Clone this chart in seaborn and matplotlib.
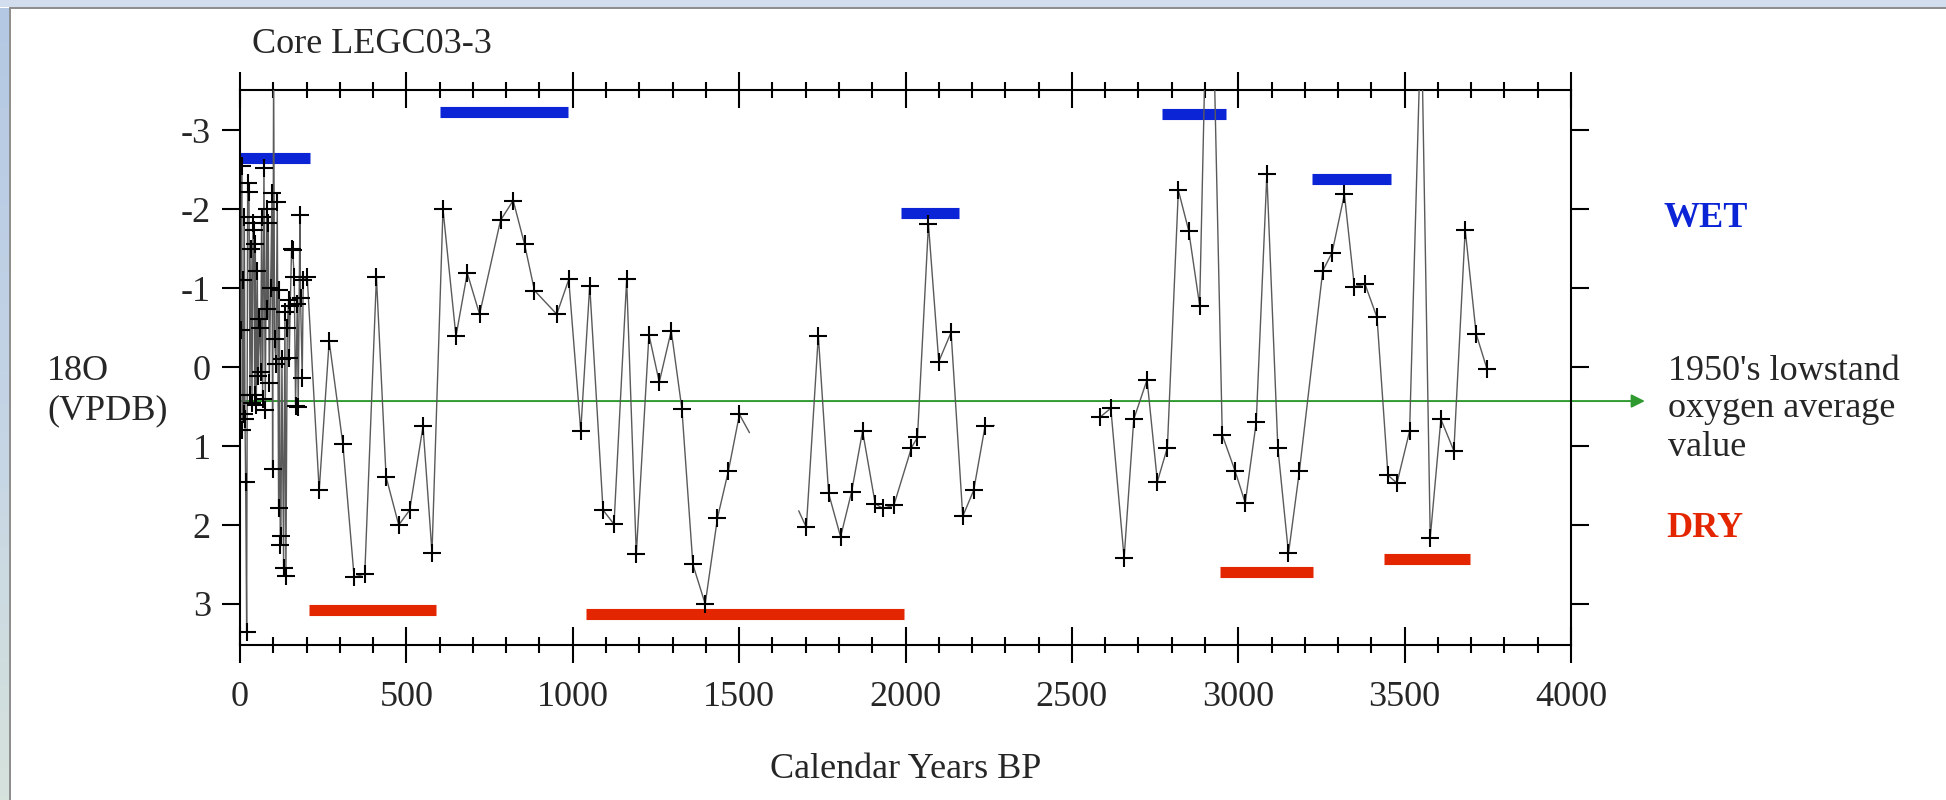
import numpy as np
import pandas as pd
import matplotlib
matplotlib.use("Agg")
import matplotlib.pyplot as plt
import seaborn as sns
from matplotlib.patches import Rectangle
from matplotlib.lines import Line2D
from matplotlib.colors import LinearSegmentedColormap
from matplotlib.ticker import MultipleLocator, NullLocator

# --- Core LEGC03-3 oxygen isotope record (calendar years BP, d18O VPDB) ---
# segment 1: 0 - 1530 BP (densely sampled near the top of the core)
seg1_years = [3, 5, 7, 9, 11, 13, 15, 17, 20, 23, 27, 30, 33, 36, 39, 42, 44, 46,
              49, 52, 54, 57, 59, 62, 65, 68, 72, 76, 80, 82, 85, 88, 92, 96, 98,
              101, 104, 108, 112, 116, 118, 121, 123, 126, 131, 135, 138, 142, 146,
              148, 151, 155, 158, 163, 167, 172, 175, 180, 182, 187, 190, 202,
              238, 268, 309, 343, 375, 410, 439, 477, 510, 550, 577, 610, 649, 683,
              720, 783, 821, 855, 885, 952, 988, 1024, 1051, 1091, 1124, 1162, 1191,
              1229, 1260, 1296, 1328, 1361, 1398, 1435, 1468, 1501, 1531]
seg1_d18o = [-0.47, -2.55, 0.80, -1.10, 0.60, -1.90, 0.66, 1.46, 3.35, -2.33, -2.22,
             0.35, -1.50, 0.46, -1.82, -1.74, 0.35, -1.56, 0.48, -1.22, 0.11, -0.61,
             -0.50, 0.06, -1.90, 0.40, -2.52, 0.54, -2.00, -0.74, -1.82, 0.20, -1.00,
             -2.20, 1.29, -3.90, -0.36, -0.04, -2.09, 1.79, -0.98, 2.25, 2.14, -0.10,
             2.54, -0.70, 2.65, -0.50, -0.85, -0.12, -0.78, -1.50, -1.48, -1.14, 0.49,
             -0.80, 0.51, -1.93, -0.87, 0.14, -1.10, -1.14,
             1.56, -0.33, 0.97, 2.66, 2.62, -1.14, 1.39, 2.00, 1.81, 0.75, 2.35, -2.00,
             -0.39, -1.19, -0.67, -1.86, -2.11, -1.56, -0.97, -0.67, -1.11, 0.81, -1.03,
             1.81, 1.99, -1.11, 2.37, -0.41, 0.19, -0.46, 0.53, 2.50, 3.00, 1.91, 1.31,
             0.60, 0.83]

# segment 2: 1680 - 2270 BP
seg2_years = [1679, 1702, 1738, 1769, 1805, 1838, 1871, 1909, 1932, 1965, 2018, 2036,
              2069, 2100, 2137, 2172, 2205, 2239, 2267]
seg2_d18o = [1.82, 2.03, -0.40, 1.60, 2.15, 1.58, 0.81, 1.73, 1.79, 1.75, 1.02, 0.89,
             -1.81, -0.07, -0.44, 1.89, 1.56, 0.75, 0.74]

# segment 3: 2580 - 3750 BP
seg3_years = [2586, 2617, 2657, 2686, 2726, 2757, 2787, 2820, 2851, 2884, 2914, 2952,
              2990, 3021, 3054, 3086, 3119, 3151, 3184, 3254, 3282, 3319, 3349, 3381,
              3417, 3450, 3477, 3515, 3550, 3577, 3609, 3648, 3682, 3715, 3748]
seg3_d18o = [0.63, 0.52, 2.42, 0.66, 0.16, 1.45, 1.02, -2.24, -1.73, -0.78, -6.50, 0.86,
             1.31, 1.72, 0.70, -2.44, 1.02, 2.36, 1.31, -1.22, -1.45, -2.19, -1.02,
             -1.05, -0.63, 1.37, 1.47, 0.81, -4.50, 2.16, 0.66, 1.06, -1.74, -0.42, 0.03]

# line ends drawn without a sample cross
unmarked_years = [1531, 1679, 2267]

# wet and dry intervals
wet_start = [0, 600, 1985, 2772, 3222]
wet_end = [210, 987, 2162, 2962, 3458]
wet_level = [-2.65, -3.23, -1.95, -3.20, -2.38]
dry_start = [207, 1041, 2946, 3438]
dry_end = [589, 1996, 3226, 3695]
dry_level = [3.08, 3.13, 2.59, 2.43]

# 1950's lowstand average
lowstand_avg = 0.43

x_ticks = list(range(0, 4001, 500))
y_ticks = [-3, -2, -1, 0, 1, 2, 3]

# ------------------------------------------------------------------
sns.set_style("ticks")
plt.rcParams["font.family"] = ["Liberation Serif", "DejaVu Serif"]
plt.rcParams["axes.unicode_minus"] = False
plt.rcParams["axes.edgecolor"] = "black"
plt.rcParams["axes.linewidth"] = 1.5

W, H = 1946, 800
fig = plt.figure(figsize=(W / 100, H / 100), dpi=100)
fig.patch.set_facecolor("white")

# slide frame: top band and left gradient strip
fig.patches.append(Rectangle((0, 1 - 7 / H), 1, 7 / H, transform=fig.transFigure,
                             facecolor="#d2deee", edgecolor="none", zorder=0))
fig.lines.append(Line2D([9.5 / W, 1], [1 - 8 / H] * 2, transform=fig.transFigure,
                        color="#8c8c8c", lw=1.4))
strip = fig.add_axes([0, 0, 9 / W, 1 - 8 / H])
strip.axis("off")
cmap = LinearSegmentedColormap.from_list("frame", ["#b4c8e3", "#c4d4e6", "#d6e2dc"])
strip.imshow(np.linspace(0, 1, 256).reshape(-1, 1), aspect="auto", cmap=cmap)
fig.lines.append(Line2D([9.5 / W] * 2, [0, 1 - 8 / H], transform=fig.transFigure,
                        color="#8c8c8c", lw=1.4))

ax = fig.add_axes([240 / W, 1 - 645 / H, (1571 - 240) / W, (645 - 90) / H])
ax.set_facecolor("white")

rows = []
for seg, (xs, ys) in enumerate([(seg1_years, seg1_d18o),
                                (seg2_years, seg2_d18o),
                                (seg3_years, seg3_d18o)]):
    for xv, yv in zip(xs, ys):
        rows.append((seg, xv, yv))
df = pd.DataFrame(rows, columns=["segment", "year", "d18o"])

sns.lineplot(data=df, x="year", y="d18o", units="segment", estimator=None,
             sort=False, color="#5a5a5a", lw=1.0, legend=False, ax=ax, zorder=3)
marked = df[~df["year"].isin(unmarked_years)]
sns.scatterplot(data=marked, x="year", y="d18o", marker="+", s=150, color="black",
                linewidth=1.5, legend=False, ax=ax, zorder=4)

ax.hlines(wet_level, wet_start, wet_end, colors="#0a24d6", lw=8, zorder=2)
ax.hlines(dry_level, dry_start, dry_end, colors="#e32600", lw=8, zorder=2)

ax.annotate("", xy=(4222, lowstand_avg), xytext=(0, lowstand_avg),
            xycoords="data", annotation_clip=False,
            arrowprops=dict(arrowstyle="-|>", color="#2f9a2f", lw=1.4,
                            mutation_scale=20, shrinkA=0, shrinkB=0), zorder=2)

ax.set_xlim(0, 4000)
ax.set_ylim(3.52, -3.51)
ax.set_xticks(x_ticks)
ax.xaxis.set_minor_locator(MultipleLocator(100))
ax.set_yticks(y_ticks)
ax.yaxis.set_minor_locator(NullLocator())

ax.tick_params(axis="x", which="both", direction="inout", top=True, bottom=True,
               labeltop=False, width=1.5, color="black")
ax.tick_params(axis="x", which="major", length=26, pad=13, labelsize=26)
ax.tick_params(axis="x", which="minor", length=12)
ax.tick_params(axis="y", which="major", direction="out", left=True, right=True,
               labelright=False, length=13, width=1.5, pad=8, labelsize=26,
               color="black")
for s in ax.spines.values():
    s.set_visible(True)
    s.set_color("black")
    s.set_linewidth(1.5)

ax.set_xlabel("Calendar Years BP", fontsize=26, labelpad=28)
ax.set_ylabel("")

fig.text(252 / W, 1 - 53 / H, "Core LEGC03-3", fontsize=26, va="baseline", ha="left")
fig.text(47 / W, 1 - 380 / H, "18O", fontsize=26, va="baseline", ha="left")
fig.text(47 / W, 1 - 419 / H, "(VPDB)", fontsize=26, va="baseline", ha="left")

fig.text(1664 / W, 1 - 227 / H, "WET", fontsize=26, fontweight="bold",
         color="#0a24d6", va="baseline", ha="left")
fig.text(1666 / W, 1 - 537 / H, "DRY", fontsize=26, fontweight="bold",
         color="#e32600", va="baseline", ha="left")
fig.text(1668 / W, 1 - 380 / H, "1950's lowstand", fontsize=26, va="baseline", ha="left")
fig.text(1668 / W, 1 - 417 / H, "oxygen average", fontsize=26, va="baseline", ha="left")
fig.text(1668 / W, 1 - 456 / H, "value", fontsize=26, va="baseline", ha="left")

fig.savefig("out.png", dpi=100)
